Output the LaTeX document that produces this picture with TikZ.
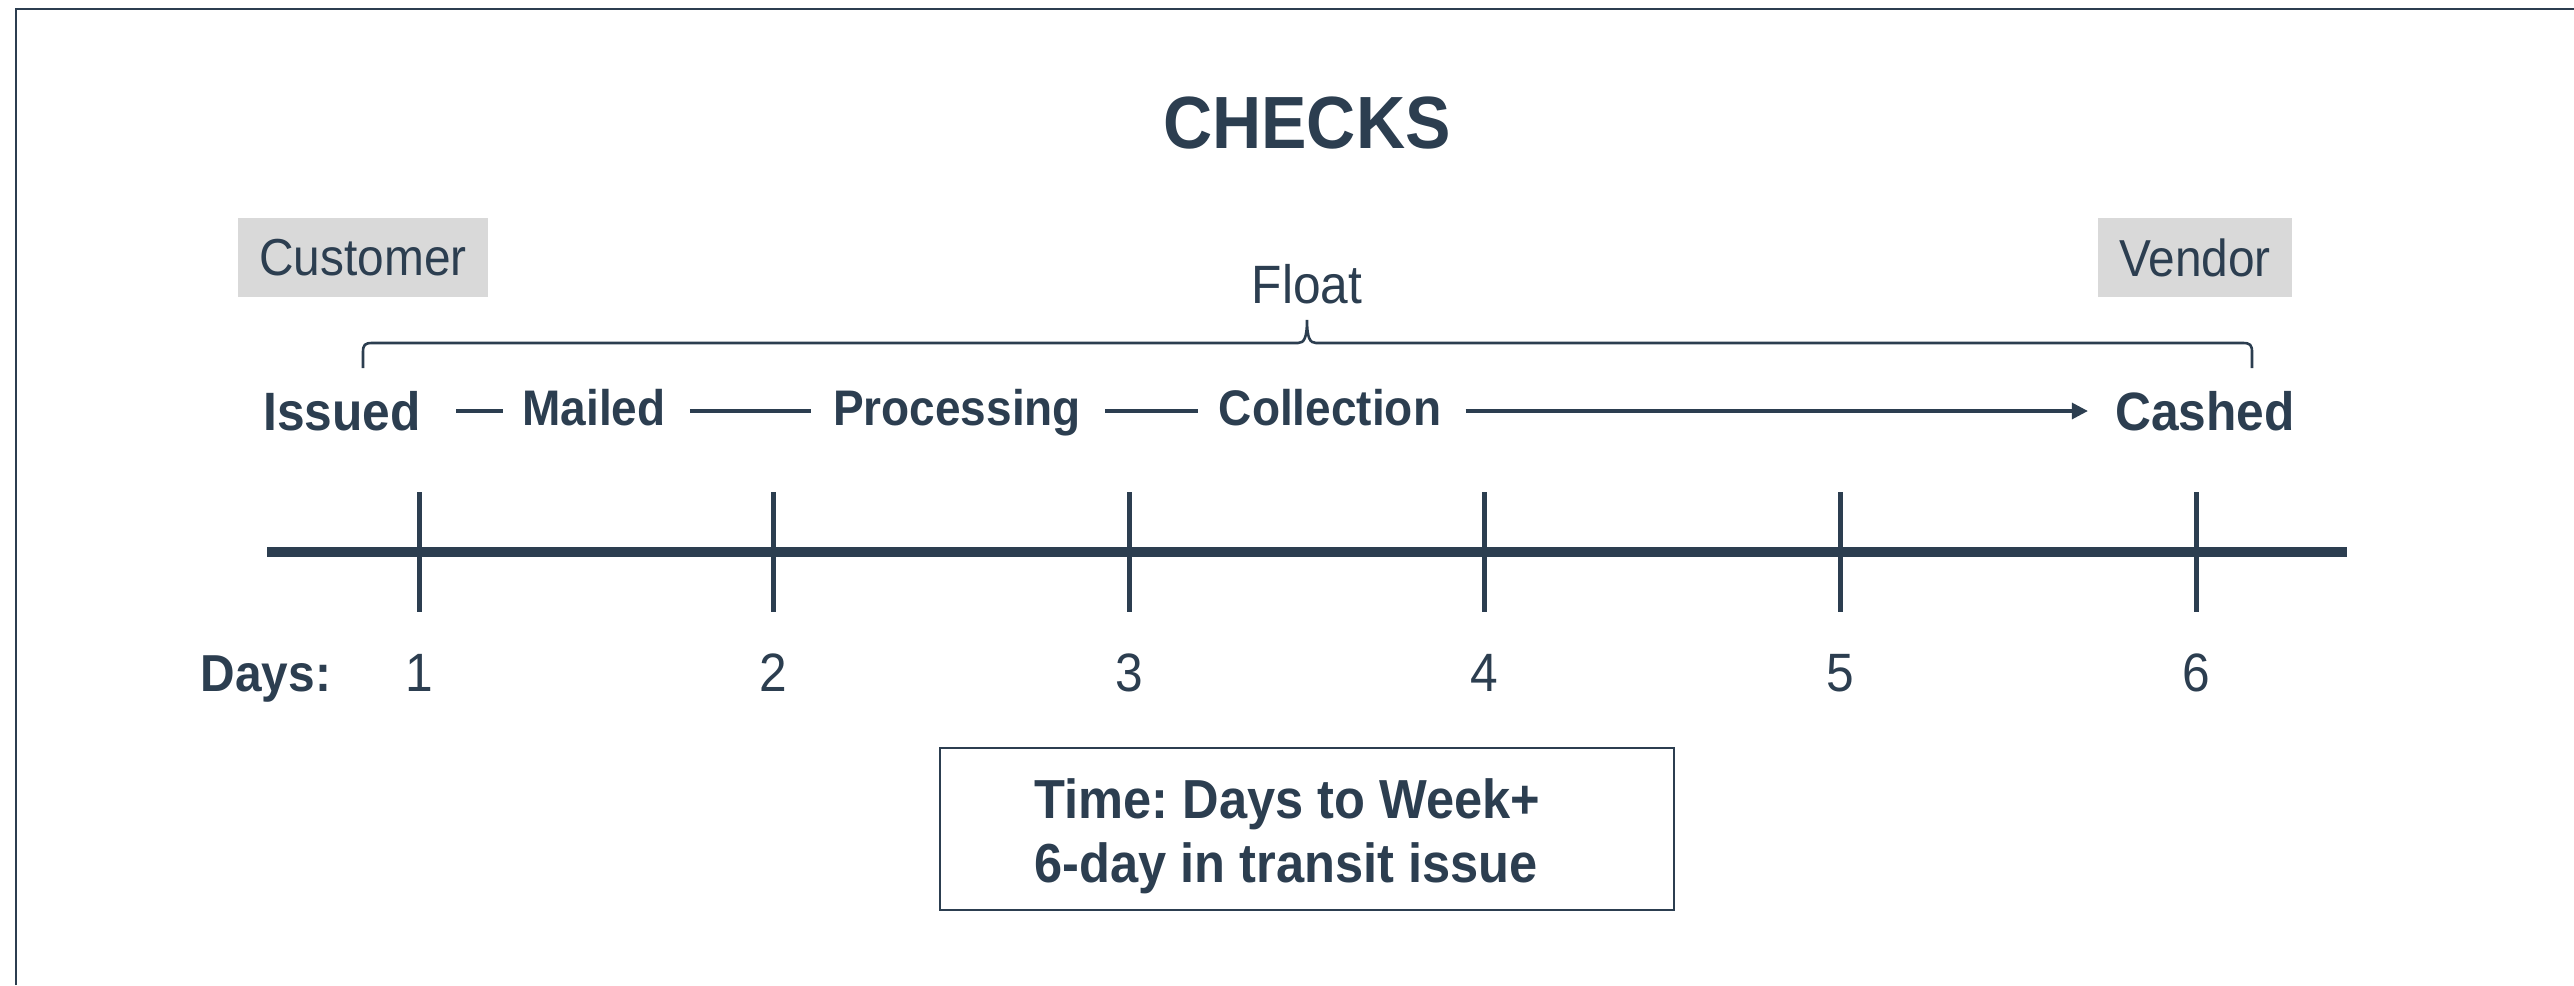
\documentclass[tikz,border=0pt]{standalone}
\usepackage{fontspec}
\setmainfont{Liberation Sans}[FakeStretch=0.92]
\usetikzlibrary{arrows.meta,calc}
\definecolor{ink}{HTML}{2C3E50}
\definecolor{tag}{HTML}{D9D9D9}
\frenchspacing
\tikzset{
  lbl/.style={inner sep=0pt, text=ink, anchor=base},
  tagbox/.style={fill=tag, inner sep=0pt, text=ink, minimum height=39.5pt, font=\fontsize{26}{30}\selectfont},
  stage/.style={lbl, font=\bfseries\fontsize{25}{30}\selectfont},
  endpt/.style={lbl, font=\bfseries\fontsize{27}{32}\selectfont},
  daynum/.style={lbl, font=\fontsize{27}{32}\selectfont},
  link/.style={draw=ink, line width=1.6pt},
  tickmark/.style={draw=ink, line width=2.5pt},
}
\begin{document}
\begin{tikzpicture}[x=0.5pt,y=-0.5pt]
\useasboundingbox (0,0) rectangle (2574,985);
% frame
\draw[ink, line width=1.3pt] (16,985) -- (16,9) -- (2574,9);
% title and tags
\node[lbl, font=\bfseries\fontsize{37}{44}\selectfont] (title) at (1307,148) {CHECKS};
\node[tagbox, minimum width=125pt] (customer) at (363,257.5) {Customer};
\node[tagbox, minimum width=97pt] (vendor) at (2195,257.5) {Vendor};
\node[lbl, font=\fontsize{27}{32}\selectfont] (float) at (1307,303) {Float};
% brace
\draw[ink, line width=1.3pt] (363,368) -- (363,352) .. controls (363,345) and (365,343) .. (372,343)
  -- (1298,343) .. controls (1304,343) and (1307,338) .. (1307,320)
  .. controls (1307,338) and (1310,343) .. (1316,343) -- (2243,343)
  .. controls (2250,343) and (2252,345) .. (2252,352) -- (2252,368);
% stages
\node[endpt] (issued) at (342,430) {Issued};
\node[stage] (mailed) at (594,425) {Mailed};
\node[stage] (processing) at (957,425) {Processing};
\node[stage] (collection) at (1330,425) {Collection};
\node[endpt] (cashed) at (2205,430) {Cashed};
\coordinate (row) at (0,411);
\draw[link] ($(issued.east|-row)+(35,0)$) -- ($(mailed.west|-row)+(-19,0)$);
\draw[link] ($(mailed.east|-row)+(24,0)$) -- ($(processing.west|-row)+(-22,0)$);
\draw[link] ($(processing.east|-row)+(24,0)$) -- ($(collection.west|-row)+(-20,0)$);
\draw[link, -{Triangle[length=8pt,width=8pt]}] ($(collection.east|-row)+(24,0)$) -- ($(cashed.west|-row)+(-27,0)$);
% axis
\coordinate (axisL) at (267,552);
\coordinate (axisR) at (2347,552);
\draw[ink, line width=5pt] (axisL) -- (axisR);
\foreach \i/\x in {1/419,2/773,3/1129,4/1484,5/1840,6/2196} {
  \coordinate (t\i) at (\x,552);
  \draw[tickmark] (\x,492) -- (\x,612);
  \node[daynum] (d\i) at (\x,691) {\i};
}
\node[lbl, font=\bfseries\fontsize{26}{31}\selectfont] (days) at (266,691) {Days:};
% time box
\node[draw=ink, line width=1.3pt, minimum width=367pt, minimum height=81pt, inner sep=0pt] (timebox) at (1307,829) {};
\node[inner sep=0pt, anchor=north west, align=left, text=ink, font=\bfseries\fontsize{27.5}{32}\selectfont] (timetext) at (1034,778) {Time: Days to Week+\\6-day in transit issue};
\end{tikzpicture}
\end{document}
